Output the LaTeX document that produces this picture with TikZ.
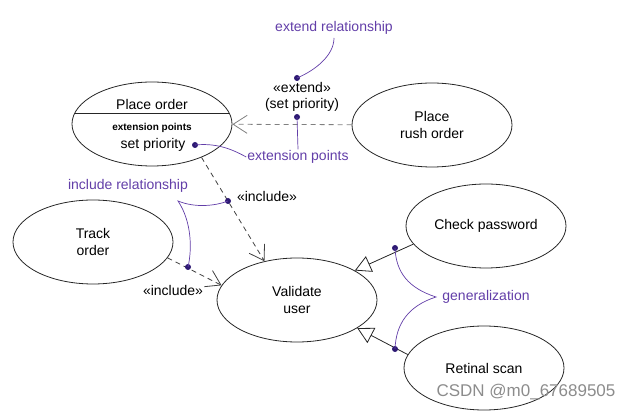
\documentclass[tikz,border=0pt]{standalone}
\usepackage{fontspec}
\setmainfont{Liberation Sans}
\usetikzlibrary{shapes.geometric,arrows.meta}
\definecolor{notecol}{RGB}{98,62,168}
\definecolor{dotcol}{RGB}{45,25,115}
\tikzset{
  usecase/.style={ellipse, draw=black!85, line width=0.8pt, minimum width=160pt, minimum height=84pt, inner sep=0pt, align=center, font=\fontsize{14}{17}\selectfont},
  plain/.style={inner sep=1pt, align=center, font=\fontsize{14}{16}\selectfont},
  notelbl/.style={inner sep=1pt, text=notecol, font=\fontsize{14}{16}\selectfont},
  noteline/.style={draw=notecol, line width=0.7pt},
  notedot/.style={circle, fill=dotcol, inner sep=0pt, minimum size=6pt},
  depline/.style={draw=black!75, line width=0.8pt, dash pattern=on 5pt off 4pt, -{Straight Barb[length=14pt,width=18pt]}},
  genline/.style={draw=black!85, line width=0.8pt, -{Triangle[open,length=16pt,width=17pt,fill=white]}}
}
\begin{document}
\begin{tikzpicture}[x=1pt,y=-1pt]
\useasboundingbox (0,0) rectangle (634,411);
\node[usecase] (order) at (152,124) {};
\begin{scope}
\clip (152,124) ellipse [x radius=80, y radius=42];
\draw[black!85, line width=0.8pt] ([yshift=11pt]order.west) -- ([yshift=11pt]order.east);
\end{scope}
\node[plain] (ordtitle) at (152,104) {Place order};
\node[plain, font=\bfseries\fontsize{10}{12}\selectfont] (extpts) at (152,128) {extension points};
\node[plain] (setpri) at (153,145) {set priority};
\node[usecase] (rush) at (432,125) {Place\\rush order};
\node[usecase] (track) at (93,242) {Track\\order};
\node[usecase] (validate) at (297,300) {Validate\\user};
\node[usecase] (check) at (486,226) {Check password};
\node[usecase] (retinal) at (484,368) {Retinal scan};
\draw[depline, draw=black!50] (rush) -- (order);
\draw[depline] (order.-34) -- (validate.130);
\draw[depline] (track.-12) -- (validate.169);
\draw[genline] (check.194) -- (validate.27);
\draw[genline] (retinal.170) -- (validate.-25);
\node[plain] (extlbl) at (302,97) {«extend»\\(set priority)};
\node[plain] (inclbl1) at (267,196) {«include»};
\node[plain] (inclbl2) at (173,290) {«include»};
\node[notelbl] (extrel) at (334,28) {extend relationship};
\node[notelbl] (extnote) at (298,157) {extension points};
\node[notelbl] (increl) at (128,186) {include relationship};
\node[notelbl] (gennote) at (486,297) {generalization};
\node[notedot] (dot1) at (297,78) {};
\node[notedot] (dot2) at (297,117) {};
\node[notedot] (dot3) at (195,145) {};
\node[notedot] (incdot1) at (228,201) {};
\node[notedot] (incdot2) at (188,267) {};
\node[notedot] (gendot1) at (395,248) {};
\node[notedot] (gendot2) at (395,349) {};
\coordinate (inccorner) at (178,201);
\coordinate (gentip) at (436,297);
\draw[noteline] (dot1.center) .. controls (316,70) and (334,55) .. (334,38);
\draw[noteline] (dot2.center) -- (extnote.north);
\draw[noteline] (dot3.center) .. controls (215,143) and (230,148) .. (extnote.west);
\draw[noteline] (incdot1.center) .. controls (215,206) and (195,208) .. (inccorner) .. controls (192,222) and (192,250) .. (incdot2.center);
\draw[noteline] (gendot1.center) .. controls (396,272) and (408,288) .. (gentip) .. controls (408,306) and (396,324) .. (gendot2.center);
\node[inner sep=0pt, text=black!45, font=\fontsize{17}{20}\selectfont] (mark) at (526,392) {CSDN @m0\_67689505};
\end{tikzpicture}
\end{document}
